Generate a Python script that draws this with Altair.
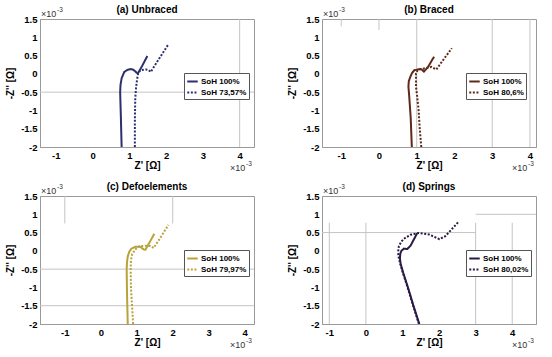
import altair as alt
import pandas as pd

FONT = "Liberation Sans"

# ---------------- data (units of 1e-3 Ohm) ----------------
titles = ["(a) Unbraced", "(b) Braced", "(c) Defoelements", "(d) Springs"]
series_names = [["SoH 100%", "SoH 73,57%"], ["SoH 100%", "SoH 80,6%"],
                ["SoH 100%", "SoH 79,97%"], ["SoH 100%", "SoH 80,02%"]]
colors = ["#2D2F6E", "#5E2A1A", "#B8A33A", "#2B1A45"]
x_domains = [[-1.43, 4.39], [-1.51, 4.16], [-1.69, 4.26], [-1.2, 4.65]]

a_new_x = [0.79, 0.77, 0.75, 0.76, 0.79, 0.86, 0.95, 1.03, 1.09, 1.15, 1.20, 1.23, 1.35, 1.49]
a_new_y = [-2.0, -1.2, -0.5, -0.3, -0.12, 0.05, 0.11, 0.13, 0.12, 0.08, 0.03, 0.01, 0.22, 0.49]
a_old_x = [1.15, 1.15, 1.16, 1.18, 1.21, 1.24, 1.30, 1.45, 1.53, 1.58, 1.80, 2.05]
a_old_y = [-2.0, -1.3, -0.7, -0.4, -0.15, 0.02, 0.10, 0.12, 0.10, 0.05, 0.40, 0.79]

b_new_x = [0.87, 0.84, 0.80, 0.78, 0.79, 0.83, 0.88, 0.94, 1.07, 1.13, 1.19, 1.30, 1.46]
b_new_y = [-2.0, -1.2, -0.6, -0.35, -0.2, -0.08, 0.03, 0.10, 0.13, 0.12, 0.06, 0.19, 0.47]
b_old_x = [1.12, 1.08, 1.05, 1.01, 0.98, 0.98, 1.02, 1.10, 1.25, 1.39, 1.52, 1.70, 1.93]
b_old_y = [-2.0, -1.5, -1.0, -0.6, -0.36, 0.01, 0.09, 0.13, 0.16, 0.19, 0.12, 0.38, 0.70]

c_new_x = [0.75, 0.73, 0.72, 0.73, 0.75, 0.79, 0.85, 0.96, 1.10, 1.19, 1.24, 1.35, 1.49]
c_new_y = [-2.0, -1.2, -0.5, -0.3, -0.15, -0.03, 0.06, 0.11, 0.11, 0.04, 0.03, 0.22, 0.47]
c_old_x = [0.90, 0.87, 0.84, 0.83, 0.84, 0.87, 0.96, 1.08, 1.25, 1.38, 1.47, 1.65, 1.88]
c_old_y = [-2.0, -1.5, -1.05, -0.5, -0.25, -0.10, 0.04, 0.13, 0.14, 0.13, 0.08, 0.35, 0.71]

d_new_x = [1.46, 1.30, 1.15, 1.02, 0.95, 0.93, 0.94, 0.97, 1.04, 1.13, 1.22, 1.31, 1.40]
d_new_y = [-2.0, -1.5, -1.0, -0.6, -0.36, -0.2, -0.08, 0.0, 0.06, 0.05, 0.14, 0.31, 0.48]
d_old_x = [1.45, 1.29, 1.14, 1.01, 0.94, 0.90, 0.88, 0.90, 0.96, 1.04, 1.22, 1.45, 1.72, 2.01, 2.17, 2.52]
d_old_y = [-2.0, -1.5, -1.0, -0.6, -0.36, -0.2, -0.04, 0.12, 0.24, 0.33, 0.44, 0.49, 0.45, 0.32, 0.40, 0.78]

curves = [(a_new_x, a_new_y, a_old_x, a_old_y), (b_new_x, b_new_y, b_old_x, b_old_y),
          (c_new_x, c_new_y, c_old_x, c_old_y), (d_new_x, d_new_y, d_old_x, d_old_y)]

# light grey reference lines visible in the figure: (x, y1, y2) and (y, x1, x2)
v_lines = [
    [(4, -2, 1.5)],
    [(-1, 1.3, 1.5), (0, 1.2, 1.5), (1, -2, 1.5), (3, -2, 1.5), (4, -2, 1.5)],
    [(-1, 0.75, 1.5), (2, 0.75, 1.5)],
    [(-1, -2, 0.77), (0, -2, 0.77), (3, -2, 0.77), (4, -2, 0.77)],
]
h_lines = [
    [(-0.5, -1.43, 4.39)],
    [],
    [(-0.5, -1.69, 4.26), (-1.5, -1.69, 4.26)],
    [(0.5, -1.2, 3.0), (1.0, 3.0, 4.65)],
]
x_ticks = [-1, 0, 1, 2, 3, 4]
y_ticks = [-2, -1.5, -1, -0.5, 0, 0.5, 1, 1.5]

W, H = 214, 128
GRID = "#c4c4c4"


def panel(i):
    nx, ny, ox, oy = curves[i]
    names = series_names[i]
    rows = []
    for k, (xx, yy) in enumerate(zip(nx, ny)):
        rows.append({"series": names[0], "o": k, "x": xx, "y": yy})
    for k, (xx, yy) in enumerate(zip(ox, oy)):
        rows.append({"series": names[1], "o": k, "x": xx, "y": yy})
    df = pd.DataFrame(rows)

    xs = alt.Scale(domain=x_domains[i], nice=False, zero=False)
    ys = alt.Scale(domain=[-2, 1.5], nice=False, zero=False)
    xaxis = alt.Axis(values=x_ticks, labelExpr="'' + datum.value", title="Z' [Ω]",
                     grid=False, ticks=False, labelPadding=3, titlePadding=1,
                     labelOverlap=False)
    yaxis = alt.Axis(values=y_ticks, labelExpr="'' + datum.value", title="-Z'' [Ω]",
                     grid=False, ticks=False, labelPadding=3, titlePadding=5,
                     labelOverlap=False)

    leg = alt.Legend(title=None, orient="none", legendX=W - 70, legendY=54,
                     strokeColor="#555", fillColor="white", padding=2,
                     labelFontSize=8, labelFont=FONT, labelFontWeight="bold",
                     labelColor="black", symbolType="stroke", symbolStrokeWidth=2,
                     symbolSize=110, rowPadding=0, labelOffset=2, cornerRadius=0)

    lines = alt.Chart(df).mark_line(strokeWidth=2, clip=True).encode(
        x=alt.X("x:Q", scale=xs, axis=xaxis),
        y=alt.Y("y:Q", scale=ys, axis=yaxis),
        color=alt.Color("series:N", scale=alt.Scale(domain=names, range=[colors[i], colors[i]]), legend=leg),
        strokeDash=alt.StrokeDash("series:N", scale=alt.Scale(domain=names, range=[[1, 0], [2, 1.6]]), legend=leg),
        order=alt.Order("o:Q"),
    )

    layers = []
    if v_lines[i]:
        vdf = pd.DataFrame(v_lines[i], columns=["x", "y1", "y2"])
        layers.append(alt.Chart(vdf).mark_rule(color=GRID, strokeWidth=1).encode(
            x=alt.X("x:Q", scale=xs, axis=xaxis), y=alt.Y("y1:Q", scale=ys, axis=yaxis), y2="y2:Q"))
    if h_lines[i]:
        hdf = pd.DataFrame(h_lines[i], columns=["y", "x1", "x2"])
        layers.append(alt.Chart(hdf).mark_rule(color=GRID, strokeWidth=1).encode(
            y=alt.Y("y:Q", scale=ys, axis=yaxis), x=alt.X("x1:Q", scale=xs, axis=xaxis), x2="x2:Q"))
    layers.append(lines)

    tdf = pd.DataFrame({"t": ["×10"], "e": ["-3"], "title": [titles[i]]})
    base_t = alt.Chart(tdf)
    layers.append(base_t.mark_text(font=FONT, fontSize=10, fontWeight="bold", align="center",
                                   baseline="middle", color="black").encode(
        x=alt.value(W / 2), y=alt.value(-9), text="title:N"))
    layers.append(base_t.mark_text(font=FONT, fontSize=9, align="left", baseline="middle", color="#333").encode(
        x=alt.value(1), y=alt.value(-5), text="t:N"))
    layers.append(base_t.mark_text(font=FONT, fontSize=6.5, align="left", baseline="middle", color="#333").encode(
        x=alt.value(17), y=alt.value(-9), text="e:N"))
    layers.append(base_t.mark_text(font=FONT, fontSize=9, align="left", baseline="middle", color="#333").encode(
        x=alt.value(W - 24), y=alt.value(H + 21), text="t:N"))
    layers.append(base_t.mark_text(font=FONT, fontSize=6.5, align="left", baseline="middle", color="#333").encode(
        x=alt.value(W - 8), y=alt.value(H + 17), text="e:N"))

    return alt.layer(*layers).properties(width=W, height=H).resolve_scale(
        color="independent", strokeDash="independent")


chart = alt.concat(panel(0), panel(1), panel(2), panel(3), columns=2,
                   spacing={"row": 49, "column": 68}, bounds="flush").resolve_scale(
    color="independent", strokeDash="independent"
).properties(padding={"left": 5, "top": 4, "right": 2, "bottom": 2}).configure(
    background="white"
).configure_view(stroke="#9a9a9a", strokeWidth=1).configure_axis(
    domainColor="#9a9a9a", labelFont=FONT, labelFontSize=9.5, labelFontWeight="bold",
    labelColor="black", titleFont=FONT, titleFontSize=10, titleFontWeight="bold", titleColor="black",
    labelOverlap=False,
)

chart.save("out.html", embed_options={"renderer": "svg", "actions": False})
